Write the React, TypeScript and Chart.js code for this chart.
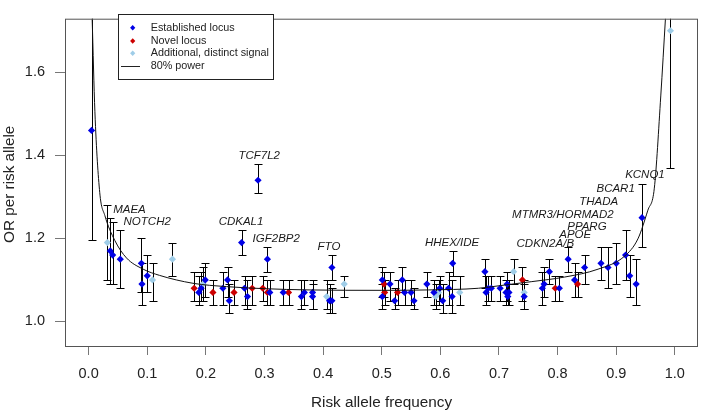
import React, { useEffect, useRef } from 'react';
import { Chart, registerables } from 'chart.js';

Chart.register(...registerables);

// ---- Data ----
const establishedFreq = [0.005, 0.037, 0.041, 0.054, 0.090, 0.091, 0.100, 0.188, 0.192, 0.199, 0.229, 0.237, 0.240, 0.261, 0.266, 0.271, 0.289, 0.305, 0.309, 0.332, 0.363, 0.368, 0.382, 0.382, 0.411, 0.415, 0.415, 0.501, 0.501, 0.514, 0.522, 0.535, 0.539, 0.550, 0.555, 0.577, 0.589, 0.599, 0.604, 0.614, 0.620, 0.621, 0.676, 0.678, 0.682, 0.687, 0.702, 0.712, 0.714, 0.715, 0.717, 0.743, 0.774, 0.777, 0.786, 0.803, 0.818, 0.829, 0.846, 0.874, 0.886, 0.900, 0.916, 0.923, 0.934, 0.944];
const establishedOR = [1.46, 1.17, 1.16, 1.15, 1.14, 1.09, 1.11, 1.07, 1.08, 1.10, 1.08, 1.10, 1.05, 1.19, 1.08, 1.06, 1.34, 1.15, 1.07, 1.07, 1.06, 1.07, 1.07, 1.06, 1.05, 1.05, 1.13, 1.10, 1.06, 1.09, 1.05, 1.10, 1.07, 1.07, 1.05, 1.09, 1.07, 1.08, 1.05, 1.08, 1.06, 1.14, 1.12, 1.07, 1.08, 1.08, 1.08, 1.07, 1.09, 1.06, 1.07, 1.06, 1.08, 1.09, 1.12, 1.08, 1.15, 1.10, 1.13, 1.14, 1.13, 1.14, 1.16, 1.11, 1.09, 1.25];
const establishedLo = [1.195, 1.09, 1.09, 1.08, 1.07, 1.04, 1.07, 1.04, 1.05, 1.06, 1.04, 1.06, 1.02, 1.16, 1.04, 1.03, 1.31, 1.12, 1.04, 1.04, 1.03, 1.04, 1.03, 1.03, 1.02, 1.02, 1.10, 1.06, 1.03, 1.05, 1.03, 1.07, 1.04, 1.04, 1.03, 1.06, 1.04, 1.05, 1.02, 1.04, 1.02, 1.11, 1.08, 1.04, 1.05, 1.05, 1.05, 1.04, 1.05, 1.04, 1.04, 1.03, 1.04, 1.06, 1.09, 1.05, 1.12, 1.06, 1.09, 1.10, 1.08, 1.09, 1.10, 1.06, 1.04, 1.18];
const establishedHi = [1.80, 1.25, 1.24, 1.22, 1.20, 1.14, 1.16, 1.11, 1.12, 1.14, 1.12, 1.13, 1.09, 1.22, 1.11, 1.10, 1.38, 1.18, 1.10, 1.10, 1.10, 1.10, 1.10, 1.09, 1.09, 1.08, 1.16, 1.13, 1.09, 1.12, 1.08, 1.13, 1.10, 1.10, 1.08, 1.12, 1.10, 1.11, 1.09, 1.12, 1.10, 1.17, 1.15, 1.11, 1.11, 1.11, 1.11, 1.10, 1.12, 1.09, 1.10, 1.09, 1.12, 1.13, 1.15, 1.11, 1.18, 1.14, 1.16, 1.18, 1.18, 1.19, 1.22, 1.16, 1.15, 1.33];

const novelFreq = [0.180, 0.212, 0.248, 0.279, 0.297, 0.305, 0.341, 0.504, 0.505, 0.527, 0.740, 0.796, 0.834];
const novelOR = [1.08, 1.07, 1.07, 1.08, 1.08, 1.07, 1.07, 1.09, 1.07, 1.07, 1.10, 1.08, 1.09];
const novelLo = [1.05, 1.04, 1.04, 1.04, 1.05, 1.04, 1.04, 1.06, 1.04, 1.04, 1.05, 1.05, 1.06];
const novelHi = [1.12, 1.10, 1.10, 1.11, 1.11, 1.10, 1.10, 1.12, 1.10, 1.10, 1.13, 1.11, 1.12];

const additionalFreq = [0.032, 0.109, 0.143, 0.195, 0.406, 0.436, 0.592, 0.597, 0.633, 0.725, 0.743, 0.9925];
const additionalOR = [1.19, 1.10, 1.15, 1.09, 1.06, 1.09, 1.06, 1.07, 1.07, 1.12, 1.07, 1.70];
const additionalLo = [1.10, 1.05, 1.11, 1.05, 1.03, 1.06, 1.03, 1.04, 1.04, 1.09, 1.03, 1.37];
const additionalHi = [1.28, 1.14, 1.19, 1.13, 1.10, 1.11, 1.09, 1.10, 1.11, 1.15, 1.10, 2.00];

const powerFreq = [0.006, 0.0107, 0.019, 0.0277, 0.0447, 0.0646, 0.093, 0.121, 0.178, 0.235, 0.30, 0.376, 0.50, 0.58, 0.665, 0.70, 0.756, 0.812, 0.869, 0.914, 0.937, 0.954, 0.965, 0.976, 0.984];
const powerOR = [1.73, 1.505, 1.31, 1.255, 1.195, 1.153, 1.126, 1.111, 1.092, 1.084, 1.079, 1.076, 1.075, 1.076, 1.080, 1.086, 1.096, 1.107, 1.126, 1.157, 1.199, 1.268, 1.321, 1.543, 1.73];

const geneNames = ['TCF7L2', 'MAEA', 'NOTCH2', 'CDKAL1', 'IGF2BP2', 'FTO', 'HHEX/IDE', 'CDKN2A/B', 'APOE', 'PPARG', 'MTMR3/HORMAD2', 'THADA', 'BCAR1', 'KCNQ1'];
const geneFreq = [0.291, 0.0697, 0.0999, 0.260, 0.320, 0.410, 0.620, 0.779, 0.830, 0.850, 0.809, 0.870, 0.899, 0.949];
const geneOR = [1.399, 1.270, 1.239, 1.239, 1.199, 1.180, 1.190, 1.187, 1.208, 1.229, 1.258, 1.289, 1.319, 1.353];

const xTicks = [0, 0.1, 0.2, 0.3, 0.4, 0.5, 0.6, 0.7, 0.8, 0.9, 1.0];
const yTicks = [1.0, 1.2, 1.4, 1.6];

const legendLabels = ['Established locus', 'Novel locus', 'Additional, distinct signal', '80% power'];

const BLUE = '#0000e6';
const RED = '#cc0000';
const LIGHT = '#9fcde8';
const FONT = '"Liberation Sans", Arial, sans-serif';

const zip = (xs: number[], ys: number[]) => xs.map((x, i) => ({ x, y: ys[i] }));

export default function App() {
  const ref = useRef<HTMLCanvasElement | null>(null);

  useEffect(() => {
    if (!ref.current) return;

    const groups = [
      { f: establishedFreq, lo: establishedLo, hi: establishedHi },
      { f: novelFreq, lo: novelLo, hi: novelHi },
      { f: additionalFreq, lo: additionalLo, hi: additionalHi },
    ];

    const errorBars = {
      id: 'errorBars',
      beforeDatasetsDraw(chart: any) {
        const { ctx, chartArea, scales } = chart;
        const xs = scales.x, ys = scales.y;
        ctx.save();
        ctx.beginPath();
        ctx.rect(chartArea.left, chartArea.top, chartArea.right - chartArea.left, chartArea.bottom - chartArea.top);
        ctx.clip();
        ctx.strokeStyle = '#000';
        ctx.lineWidth = 1;
        groups.forEach((g) => {
          g.f.forEach((fv, i) => {
            const px = Math.round(xs.getPixelForValue(fv)) + 0.5;
            const pLo = Math.round(ys.getPixelForValue(g.lo[i])) + 0.5;
            const pHi = Math.round(ys.getPixelForValue(g.hi[i])) + 0.5;
            ctx.beginPath();
            ctx.moveTo(px, pLo);
            ctx.lineTo(px, pHi);
            ctx.moveTo(px - 4, pLo);
            ctx.lineTo(px + 4, pLo);
            ctx.moveTo(px - 4, pHi);
            ctx.lineTo(px + 4, pHi);
            ctx.stroke();
          });
        });
        ctx.restore();
      },
    };

    const overlay = {
      id: 'overlay',
      afterDraw(chart: any) {
        const { ctx, chartArea, scales } = chart;
        const xs = scales.x, ys = scales.y;
        ctx.save();
        // frame
        ctx.strokeStyle = '#555';
        ctx.lineWidth = 1;
        ctx.strokeRect(chartArea.left + 0.5, chartArea.top + 0.5, chartArea.right - chartArea.left - 1, chartArea.bottom - chartArea.top);
        // gene labels
        ctx.fillStyle = '#1a1a1a';
        ctx.font = `italic 11.5px ${FONT}`;
        ctx.textAlign = 'center';
        ctx.textBaseline = 'middle';
        geneNames.forEach((n, i) => {
          ctx.fillText(n, xs.getPixelForValue(geneFreq[i]), ys.getPixelForValue(geneOR[i]));
        });
        // axis titles
        ctx.fillStyle = '#222';
        ctx.font = `15.3px ${FONT}`;
        ctx.fillText('Risk allele frequency', (chartArea.left + chartArea.right) / 2, 403);
        ctx.save();
        ctx.translate(9.5, (chartArea.top + chartArea.bottom) / 2 + 2);
        ctx.rotate(-Math.PI / 2);
        ctx.fillText('OR per risk allele', 0, 0);
        ctx.restore();
        // legend
        const bx = 118.5, by = 14.5, bw = 155, bh = 65;
        ctx.fillStyle = '#fff';
        ctx.fillRect(bx, by, bw, bh);
        ctx.strokeStyle = '#222';
        ctx.strokeRect(bx, by, bw, bh);
        const rowsY = [27.7, 41, 53.3, 66];
        const cols = [BLUE, RED, LIGHT];
        ctx.font = `10.8px ${FONT}`;
        ctx.textAlign = 'left';
        legendLabels.forEach((lab, i) => {
          const y = rowsY[i];
          if (i < 3) {
            ctx.fillStyle = cols[i];
            ctx.beginPath();
            ctx.moveTo(132.7, y - 2.8);
            ctx.lineTo(135.3, y);
            ctx.lineTo(132.7, y + 2.8);
            ctx.lineTo(130.1, y);
            ctx.closePath();
            ctx.fill();
          } else {
            ctx.strokeStyle = '#222';
            ctx.beginPath();
            ctx.moveTo(121, Math.round(y) + 0.5);
            ctx.lineTo(140, Math.round(y) + 0.5);
            ctx.stroke();
          }
          ctx.fillStyle = '#222';
          ctx.fillText(lab, 150.7, y);
        });
        ctx.restore();
      },
    };

    const pointDs = (label: string, f: number[], o: number[], color: string) => ({
      type: 'scatter' as const,
      label,
      data: zip(f, o),
      pointStyle: 'rectRot',
      pointRadius: 3.6,
      backgroundColor: color,
      borderColor: color,
      borderWidth: 0,
      showLine: false,
    });

    const chart = new Chart(ref.current, {
      type: 'scatter',
      data: {
        datasets: [
          {
            type: 'line' as const,
            label: '80% power',
            data: zip(powerFreq, powerOR),
            borderColor: '#111',
            borderWidth: 1,
            pointRadius: 0,
            fill: false,
            cubicInterpolationMode: 'monotone',
          } as any,
          pointDs('Established locus', establishedFreq, establishedOR, BLUE),
          pointDs('Novel locus', novelFreq, novelOR, RED),
          pointDs('Additional, distinct signal', additionalFreq, additionalOR, LIGHT),
        ],
      },
      options: {
        responsive: false,
        animation: false,
        events: [],
        layout: { padding: { top: 2, right: 2, left: 0, bottom: 0 } },
        plugins: { legend: { display: false }, tooltip: { enabled: false } },
        scales: {
          x: {
            type: 'linear',
            min: -0.0403,
            max: 1.0395,
            afterFit: (s: any) => { s.height = 68; },
            afterBuildTicks: (s: any) => { s.ticks = xTicks.map((v) => ({ value: v })); },
            grid: { drawOnChartArea: false, drawTicks: true, tickLength: 9, color: '#777' },
            border: { display: false },
            ticks: {
              padding: 10,
              color: '#222',
              font: { family: FONT, size: 14.5 },
              maxRotation: 0,
              callback: (v: any) => Number(v).toFixed(1),
            },
          },
          y: {
            type: 'linear',
            min: 0.941,
            max: 1.729,
            afterFit: (s: any) => { s.width = 65; },
            afterBuildTicks: (s: any) => { s.ticks = yTicks.map((v) => ({ value: v })); },
            grid: { drawOnChartArea: false, drawTicks: true, tickLength: 10, color: '#777' },
            border: { display: false },
            ticks: {
              padding: 10,
              color: '#222',
              font: { family: FONT, size: 14.5 },
              callback: (v: any) => Number(v).toFixed(1),
            },
          },
        },
      },
      plugins: [errorBars, overlay],
    } as any);

    return () => chart.destroy();
  }, []);

  return (
    <div style={{ position: 'absolute', left: 0, top: 0, width: 702, height: 414, background: '#fff' }}>
      <canvas ref={ref} width={702} height={414} />
    </div>
  );
}
